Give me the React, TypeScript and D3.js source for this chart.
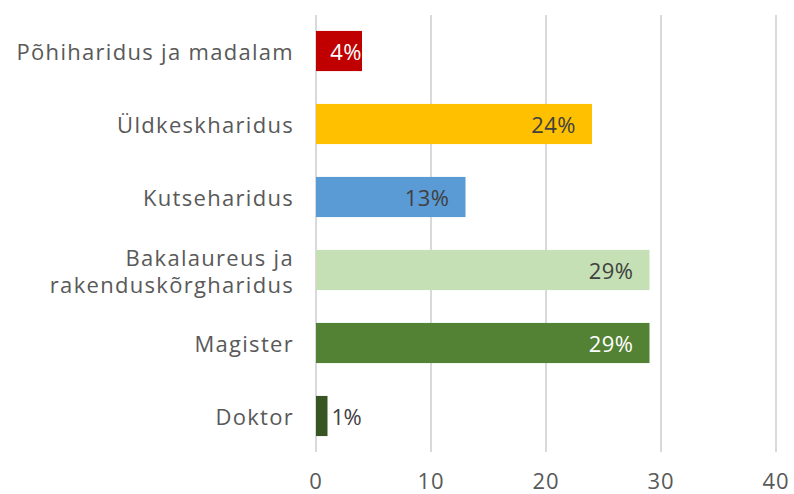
import React from "react";
import * as d3 from "d3";

const categories = [
  ["Põhiharidus ja madalam"],
  ["Üldkeskharidus"],
  ["Kutseharidus"],
  ["Bakalaureus ja", "rakenduskõrgharidus"],
  ["Magister"],
  ["Doktor"],
];
const values = [4, 24, 13, 29, 29, 1];
const valueLabels = ["4%", "24%", "13%", "29%", "29%", "1%"];
const colors = ["#C00000", "#FFC000", "#5B9BD5", "#C5E0B4", "#548235", "#375623"];
const labelColors = ["#FFFFFF", "#404040", "#404040", "#404040", "#FFFFFF", "#404040"];
const ticks = [0, 10, 20, 30, 40];

const W = 794;
const H = 494;
const FONT = "'Open Sans', 'Noto Sans', sans-serif";

export default function App() {
  const x = d3.scaleLinear().domain([0, 40]).range([316, 776]);
  const y = d3
    .scaleBand<number>()
    .domain(d3.range(categories.length))
    .range([14.5, 452.5])
    .paddingInner(0.45)
    .paddingOuter(0.225);
  const bh = y.bandwidth();
  return (
    <svg
      width={W}
      height={H}
      style={{ position: "absolute", left: 0, top: 0, background: "#fff" }}
      fontFamily={FONT}
    >
      {ticks.map((t) => (
        <g key={t}>
          <line x1={x(t)} x2={x(t)} y1={15} y2={452} stroke="#D9D9D9" strokeWidth={2} />
          <text x={x(t)} y={480} textAnchor="middle" dominantBaseline="central" fontSize={22} letterSpacing={1} fill="#595959">
            {t}
          </text>
        </g>
      ))}
      {values.map((v, i) => {
        const y0 = y(i)!;
        const cy = y0 + bh / 2;
        const w = x(v) - x(0);
        const outside = w < 30;
        const narrow = w < 70;
        const n = categories[i].length;
        return (
          <g key={i}>
            <rect x={x(0)} y={y0} width={w} height={bh} fill={colors[i]} />
            <text
              x={outside ? x(v) + 4 : narrow ? x(v) : x(v) - 16}
              y={cy}
              textAnchor={outside ? "start" : "end"}
              dominantBaseline="central"
              fontSize={22}
              fill={labelColors[i]}
              letterSpacing={outside ? -0.5 : 0.5}
            >
              {valueLabels[i]}
            </text>
            <text
              textAnchor="end"
              dominantBaseline="central"
              fontSize={22}
              letterSpacing={1.3}
              fill="#595959"
            >
              {categories[i].map((line, j) => (
                <tspan key={j} x={294} y={cy + (j - (n - 1) / 2) * 27}>
                  {line}
                </tspan>
              ))}
            </text>
          </g>
        );
      })}
    </svg>
  );
}
